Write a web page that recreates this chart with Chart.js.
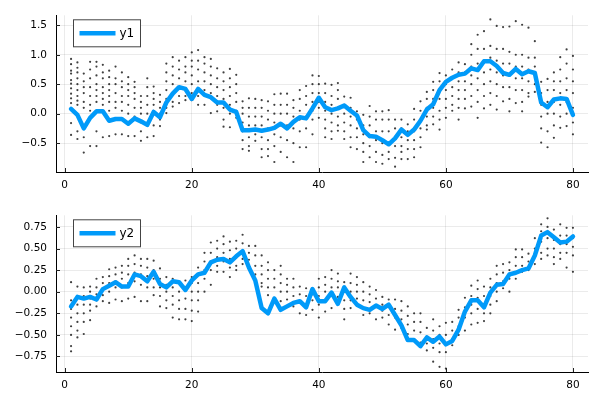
<!DOCTYPE html>
<html>
<head>
<meta charset="utf-8">
<script src="https://cdn.jsdelivr.net/npm/chart.js@4/dist/chart.umd.min.js"></script>
<style>
  html, body { margin: 0; padding: 0; background: #fff; }
  canvas { display: block; }
</style>
</head>
<body>
<canvas id="top" width="600" height="200"></canvas>
<canvas id="bottom" width="600" height="200"></canvas>
<script>
// x ticks shared by both panels
const xTicks = [0, 20, 40, 60, 80];
const xLabels = ["0", "20", "40", "60", "80"];

const y1Ticks = [-0.5, 0, 0.5, 1.0, 1.5];
const y1Labels = ["\u22120.5", "0.0", "0.5", "1.0", "1.5"];
const y2Ticks = [-0.75, -0.5, -0.25, 0, 0.25, 0.5, 0.75];
const y2Labels = ["\u22120.75", "\u22120.50", "\u22120.25", "0.00", "0.25", "0.50", "0.75"];

// blue lines, one value per x = 1..80
const y1 = [0.08,-0.02,-0.25,-0.07,0.04,0.04,-0.12,-0.09,-0.09,-0.17,
  -0.08,-0.13,-0.19,0.03,-0.06,0.19,0.34,0.45,0.42,0.25,
  0.42,0.32,0.28,0.19,0.19,0.07,0.03,-0.28,-0.28,-0.27,
  -0.29,-0.27,-0.24,-0.17,-0.25,-0.14,-0.06,-0.08,0.09,0.27,
  0.11,0.06,0.09,0.14,0.05,-0.03,-0.28,-0.38,-0.39,-0.45,
  -0.52,-0.42,-0.27,-0.36,-0.27,-0.12,0.07,0.16,0.40,0.54,
  0.61,0.66,0.68,0.77,0.74,0.89,0.89,0.81,0.69,0.66,
  0.76,0.67,0.72,0.69,0.19,0.11,0.24,0.26,0.25,-0.02];

const y2 = [-0.17,-0.06,-0.08,-0.06,-0.09,0.03,0.07,0.11,0.06,0.06,
  0.20,0.18,0.12,0.23,0.09,0.05,0.12,0.11,0.02,0.13,
  0.20,0.22,0.34,0.37,0.38,0.34,0.41,0.47,0.28,0.13,
  -0.19,-0.25,-0.08,-0.21,-0.17,-0.13,-0.11,-0.18,0.03,-0.11,
  -0.11,-0.01,-0.14,0.05,-0.06,-0.15,-0.19,-0.21,-0.16,-0.20,
  -0.15,-0.27,-0.39,-0.56,-0.56,-0.63,-0.53,-0.58,-0.52,-0.61,
  -0.57,-0.44,-0.23,-0.10,-0.10,-0.18,-0.01,0.08,0.09,0.20,
  0.22,0.25,0.27,0.42,0.65,0.69,0.63,0.57,0.58,0.64];

// black sample dots, one column per x = 1..80
const dots1 = [
  [0.93,0.84,0.73,0.68,0.57,0.51,0.43,0.34,0.26,0.18,0.09,-0.16,-0.36],
  [0.87,0.78,0.7,0.6,0.5,0.4,0.3,0.22,0.15,-0.3,-0.43],
  [0.68,0.55,0.45,0.35,0.2,0.1,-0.4,-0.66],
  [0.88,0.75,0.6,0.45,0.3,0.15,0.05,-0.55],
  [0.88,0.8,0.65,0.5,0.4,0.3,0.2,-0.3,-0.55],
  [0.83,0.7,0.6,0.45,0.35,0.25,0.15,-0.4],
  [0.73,0.62,0.5,0.4,0.3,0.2,0.05,-0.38],
  [0.8,0.6,0.5,0.35,0.2,0.1,-0.35],
  [0.7,0.55,0.45,0.3,0.2,0.05,-0.35],
  [0.62,0.5,0.4,0.3,0.15,0.0,-0.38],
  [0.54,0.45,0.35,0.25,0.1,-0.05,-0.38],
  [0.3,0.2,0.1,0.0,-0.15,-0.3,-0.46],
  [0.6,0.45,0.3,0.15,0.0,-0.2,-0.4],
  [0.46,0.35,0.25,0.15,0.05,-0.2,-0.38],
  [0.32,0.2,0.1,0.0,-0.1,-0.21],
  [0.85,0.7,0.55,0.4,0.25,0.1,0.01],
  [0.96,0.8,0.65,0.5,0.35,0.2,0.12],
  [0.9,0.75,0.6,0.45,0.3,0.18],
  [0.96,0.8,0.7,0.55,0.4,0.3,0.23],
  [1.04,0.9,0.8,0.65,0.5,0.35,0.23],
  [1.08,0.9,0.75,0.55,0.4,0.3,0.15],
  [0.96,0.85,0.7,0.55,0.4,0.15],
  [0.93,0.8,0.65,0.5,0.35,0.01],
  [0.77,0.6,0.45,0.3,0.15,0.04],
  [0.7,0.55,0.4,0.25,0.1,-0.1,-0.22],
  [0.76,0.6,0.45,0.3,0.15,0.0,-0.23],
  [0.66,0.5,0.35,0.2,0.05,-0.07],
  [0.21,0.1,0.0,-0.15,-0.3,-0.45,-0.6],
  [0.26,0.1,-0.05,-0.2,-0.4,-0.55,-0.63],
  [0.25,0.1,-0.05,-0.2,-0.35,-0.46],
  [0.23,0.1,-0.05,-0.2,-0.4,-0.6,-0.74],
  [0.21,0.05,-0.1,-0.25,-0.45,-0.6,-0.72],
  [0.33,0.15,0.0,-0.15,-0.35,-0.55,-0.82],
  [0.34,0.15,0.0,-0.2,-0.4,-0.65],
  [0.34,0.15,0.0,-0.2,-0.45,-0.74],
  [0.23,0.1,-0.05,-0.25,-0.5,-0.82],
  [0.4,0.25,0.05,-0.1,-0.3,-0.57],
  [0.47,0.3,0.15,-0.05,-0.25,-0.57],
  [0.65,0.5,0.35,0.2,0.05,-0.1,-0.35],
  [0.64,0.5,0.35,0.2,0.1,-0.07],
  [0.51,0.35,0.2,0.05,-0.1,-0.25,-0.4],
  [0.49,0.3,0.15,0.0,-0.15,-0.3,-0.43],
  [0.52,0.4,0.25,0.1,-0.05,-0.2,-0.29],
  [0.29,0.15,0.0,-0.15,-0.3,-0.43],
  [0.27,0.1,-0.05,-0.2,-0.4,-0.57],
  [0.04,-0.1,-0.25,-0.4,-0.6],
  [-0.02,-0.2,-0.35,-0.5,-0.65,-0.82],
  [0.13,-0.05,-0.2,-0.4,-0.55,-0.74],
  [0.04,-0.1,-0.3,-0.45,-0.65,-0.82],
  [0.04,-0.1,-0.3,-0.5,-0.7,-0.85],
  [0.06,-0.1,-0.3,-0.5,-0.65,-0.77],
  [-0.1,-0.25,-0.4,-0.55,-0.75,-0.9],
  [-0.1,-0.25,-0.4,-0.55,-0.65,-0.77],
  [-0.18,-0.3,-0.45,-0.6,-0.77],
  [0.08,-0.1,-0.3,-0.45,-0.6,-0.74],
  [0.21,0.05,-0.1,-0.25,-0.4,-0.57],
  [0.37,0.25,0.1,-0.05,-0.2,-0.27],
  [0.54,0.4,0.25,0.1,-0.05,-0.18],
  [0.69,0.55,0.4,0.25,0.05,-0.1,-0.27],
  [0.65,0.5,0.4,0.25,0.1,-0.07],
  [0.75,0.6,0.45,0.3,0.15,0.05],
  [0.87,0.7,0.55,0.4,0.25,0.1,-0.1],
  [0.84,0.7,0.55,0.4,0.25,0.09],
  [1.18,1.0,0.8,0.65,0.5,0.3,0.12],
  [1.34,1.1,0.85,0.6,0.4,0.2,-0.07],
  [1.4,1.1,0.9,0.7,0.5,0.3,0.09],
  [1.6,1.15,0.95,0.75,0.55,0.35,0.15],
  [1.49,1.1,0.9,0.7,0.5,0.3,0.07],
  [1.47,1.1,0.85,0.65,0.45,0.21],
  [1.48,1.05,0.85,0.65,0.45,0.25,0.04],
  [1.57,1.0,0.8,0.6,0.4,0.18],
  [1.51,1.0,0.8,0.6,0.4,0.2,0.04],
  [1.46,0.95,0.75,0.55,0.35,0.29],
  [1.23,0.95,0.8,0.65,0.5,0.37],
  [0.54,0.35,0.15,-0.05,-0.25,-0.49],
  [0.59,0.4,0.2,0.0,-0.3,-0.57],
  [0.7,0.55,0.4,0.2,0.0,-0.2,-0.41],
  [0.96,0.75,0.55,0.35,0.15,-0.05,-0.24],
  [1.09,0.85,0.6,0.4,0.2,0.0,-0.21],
  [0.98,0.75,0.55,0.35,0.1,-0.15,-0.35]
];

const dots2 = [
  [0.11,-0.1,-0.2,-0.3,-0.4,-0.5,-0.63,-0.69],
  [0.06,-0.05,-0.15,-0.25,-0.35,-0.45,-0.53],
  [0.05,-0.05,-0.15,-0.25,-0.35,-0.49],
  [0.06,0.0,-0.08,-0.15,-0.22,-0.33],
  [0.15,0.05,-0.03,-0.1,-0.17],
  [0.17,0.1,0.03,-0.04,-0.11],
  [0.26,0.18,0.1,0.0,-0.13],
  [0.28,0.2,0.12,0.05,-0.09],
  [0.3,0.22,0.15,0.05,-0.11],
  [0.38,0.3,0.2,0.1,-0.08],
  [0.42,0.32,0.22,0.12,-0.06],
  [0.38,0.3,0.2,0.08,-0.11],
  [0.38,0.28,0.18,0.05,-0.11],
  [0.36,0.25,0.15,0.05,-0.04],
  [0.27,0.15,0.05,-0.05,-0.17],
  [0.17,0.08,0.0,-0.1,-0.19],
  [0.15,0.05,-0.05,-0.15,-0.3],
  [0.11,0.0,-0.1,-0.2,-0.32],
  [0.13,0.02,-0.08,-0.2,-0.32],
  [0.17,0.1,0.0,-0.1,-0.22,-0.34],
  [0.28,0.2,0.1,0.0,-0.1,-0.23],
  [0.45,0.35,0.25,0.15,0.0],
  [0.57,0.45,0.35,0.25,0.08],
  [0.59,0.5,0.4,0.3,0.23],
  [0.64,0.55,0.45,0.35,0.23],
  [0.58,0.48,0.38,0.28,0.17],
  [0.59,0.5,0.4,0.3,0.25],
  [0.66,0.56,0.46,0.38,0.32],
  [0.53,0.45,0.37,0.27],
  [0.53,0.42,0.3,0.2,0.13],
  [0.42,0.3,0.2,0.1,0.06],
  [0.34,0.25,0.15,0.05,-0.04],
  [0.25,0.15,0.05,-0.07],
  [0.3,0.2,0.1,0.0,-0.11],
  [0.15,0.08,0.0,-0.09],
  [0.15,0.05,-0.05,-0.17],
  [0.06,-0.03,-0.12,-0.25],
  [0.04,-0.05,-0.15,-0.27],
  [0.04,-0.03,-0.1,-0.21],
  [0.15,0.05,-0.05,-0.15,-0.3],
  [0.17,0.08,0.0,-0.1,-0.23],
  [0.25,0.15,0.05,-0.05,-0.19],
  [0.21,0.12,0.05,-0.06],
  [0.11,0.0,-0.1,-0.2,-0.32],
  [0.21,0.1,0.0,-0.1,-0.19],
  [0.17,0.08,0.0,-0.08,-0.15],
  [0.11,0.0,-0.1,-0.18,-0.27],
  [0.06,-0.03,-0.12,-0.25],
  [0.02,-0.08,-0.18,-0.32],
  [-0.06,-0.15,-0.22,-0.3],
  [-0.09,-0.18,-0.27,-0.38],
  [-0.09,-0.2,-0.3,-0.44],
  [-0.11,-0.22,-0.32,-0.42],
  [-0.17,-0.28,-0.38,-0.49],
  [-0.25,-0.35,-0.45,-0.57],
  [-0.25,-0.35,-0.47,-0.59],
  [-0.42,-0.52,-0.6,-0.68],
  [-0.32,-0.45,-0.55,-0.65,-0.81],
  [-0.4,-0.5,-0.6,-0.7,-0.87],
  [-0.36,-0.5,-0.6,-0.7,-0.89],
  [-0.35,-0.45,-0.55,-0.62],
  [-0.21,-0.3,-0.4,-0.5],
  [-0.07,-0.18,-0.3,-0.45],
  [0.07,-0.05,-0.15,-0.25,-0.38],
  [0.13,0.03,-0.07,-0.2,-0.36],
  [0.06,-0.05,-0.15,-0.25,-0.34],
  [0.15,0.05,-0.05,-0.15,-0.25],
  [0.3,0.2,0.1,0.0,-0.11],
  [0.32,0.22,0.12,0.04],
  [0.34,0.25,0.15,0.0],
  [0.49,0.4,0.3,0.15],
  [0.49,0.4,0.3,0.23],
  [0.44,0.35,0.25],
  [0.62,0.5,0.4,0.32],
  [0.78,0.7,0.58,0.45,0.38],
  [0.85,0.75,0.62,0.5,0.42],
  [0.72,0.6,0.5,0.4,0.32],
  [0.78,0.65,0.55,0.45,0.38],
  [0.74,0.65,0.55,0.45,0.28],
  [0.74,0.62,0.52,0.42,0.23]
];

Chart.defaults.font.family = "'DejaVu Sans', sans-serif";
Chart.defaults.font.size = 10.5;
Chart.defaults.color = '#000';

const blue = '#009af9';

// small inward ticks + boxed legend, Plots.jl style
const plotsDecor = {
  id: 'plotsDecor',
  afterDraw(chart) {
    const c = chart.ctx, a = chart.chartArea;
    c.save();
    c.strokeStyle = '#222';
    c.lineWidth = 1;
    chart.scales.x.ticks.forEach(t => {
      const px = Math.round(chart.scales.x.getPixelForValue(t.value)) + 0.5;
      c.beginPath(); c.moveTo(px, a.bottom); c.lineTo(px, a.bottom - 4); c.stroke();
    });
    chart.scales.y.ticks.forEach(t => {
      const py = Math.round(chart.scales.y.getPixelForValue(t.value)) + 0.5;
      c.beginPath(); c.moveTo(a.left, py); c.lineTo(a.left + 4, py); c.stroke();
    });
    // legend
    const ds = chart.data.datasets[0];
    const bx = a.left + 17.5, by = a.top + 4.5;
    c.fillStyle = '#fff';
    c.fillRect(bx, by, 67, 27);
    c.strokeStyle = '#444';
    c.strokeRect(bx, by, 67, 27);
    c.strokeStyle = ds.borderColor;
    c.lineWidth = ds.borderWidth;
    c.beginPath(); c.moveTo(bx + 6, by + 13.5); c.lineTo(bx + 42, by + 13.5); c.stroke();
    c.fillStyle = '#000';
    c.font = "12px 'DejaVu Sans', sans-serif";
    c.textBaseline = 'middle';
    c.fillText(ds.label, bx + 46, by + 14);
    c.restore();
  }
};

function makeChart(id, label, line, dots, yMin, yMax, yTicks, yLabels) {
  const linePts = line.map((v, i) => ({ x: i + 1, y: v }));
  const dotPts = dots.flatMap((col, i) => col.map(v => ({ x: i + 1, y: v })));
  return new Chart(document.getElementById(id), {
    data: {
      datasets: [
        {
          type: 'line',
          label: label,
          data: linePts,
          borderColor: blue,
          borderWidth: 4.5,
          pointRadius: 0,
          tension: 0,
          borderJoinStyle: 'round',
          borderCapStyle: 'round'
        },
        {
          type: 'scatter',
          label: 'samples',
          data: dotPts,
          backgroundColor: 'rgba(0,0,0,0.75)',
          borderWidth: 0,
          pointRadius: 1.1
        }
      ]
    },
    options: {
      responsive: false,
      animation: false,
      events: [],
      layout: { padding: { top: 12, right: 12, left: 0, bottom: 0 } },
      plugins: { legend: { display: false }, tooltip: { enabled: false } },
      scales: {
        x: {
          type: 'linear',
          min: -1.37,
          max: 82.37,
          afterBuildTicks: s => { s.ticks = xTicks.map(v => ({ value: v })); },
          afterFit: s => { s.height = 28; },
          ticks: {
            padding: 7,
            maxRotation: 0,
            callback: v => xLabels[xTicks.indexOf(v)]
          },
          grid: { color: 'rgba(0,0,0,0.08)', drawTicks: false },
          border: { color: '#000', width: 1 }
        },
        y: {
          type: 'linear',
          min: yMin,
          max: yMax,
          afterBuildTicks: s => { s.ticks = yTicks.map(v => ({ value: v })); },
          afterFit: s => { s.width = 56; },
          ticks: {
            padding: 9,
            callback: v => yLabels[yTicks.indexOf(v)]
          },
          grid: { color: 'rgba(0,0,0,0.08)', drawTicks: false },
          border: { color: '#000', width: 1 }
        }
      }
    },
    plugins: [plotsDecor]
  });
}

makeChart('top', 'y1', y1, dots1, -0.99, 1.67, y1Ticks, y1Labels);
makeChart('bottom', 'y2', y2, dots2, -0.93, 0.885, y2Ticks, y2Labels);
</script>
</body>
</html>
